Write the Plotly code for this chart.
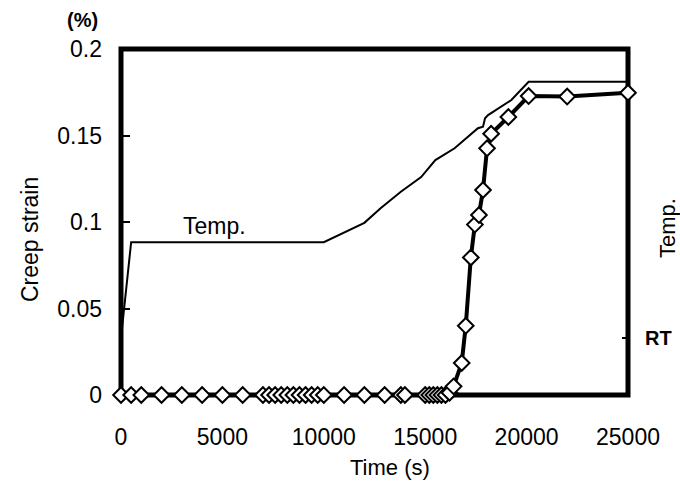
import plotly.graph_objects as go

# ---- data ----
strain_time = [0, 500, 1000, 2000, 3000, 4000, 5000, 6000,
               7000, 7300, 7600, 7900, 8200, 8500, 8800, 9100, 9400, 9700,
               10000, 11000, 12000, 13000, 13800, 14000,
               15000, 15200, 15400, 15600, 15800, 16000, 16200, 16400,
               16800, 17000, 17250, 17450, 17650, 17850, 18050, 18250,
               19100, 20100, 22000, 25000]
strain_values = [0, 0, 0, 0, 0, 0, 0, 0,
                 0, 0, 0, 0, 0, 0, 0, 0, 0, 0,
                 0, 0, 0, 0, 0, 0,
                 0, 0, 0, 0, 0, 0, 0.0013, 0.005,
                 0.0185, 0.040, 0.0795, 0.0985, 0.104, 0.1185, 0.1426, 0.151,
                 0.1607, 0.1728, 0.1725, 0.1747]

temp_time = [0, 500, 10000, 12000, 12800, 13800, 14800, 15200, 15500,
             16450, 17100, 17600, 17850, 17950, 18100, 18750, 19250, 20100, 25000]
temp_values = [0.033, 0.0883, 0.0883, 0.0995, 0.108, 0.1175, 0.126, 0.132, 0.1358,
               0.1426, 0.1493, 0.1542, 0.1551, 0.160, 0.1618, 0.1666, 0.1705, 0.181, 0.181]

x_ticks = [0, 5000, 10000, 15000, 20000, 25000]
y_ticks = [0, 0.05, 0.1, 0.15, 0.2]
y_tick_labels = ["0", "0.05", "0.1", "0.15", "0.2"]
rt_level = [0.033]
rt_label = ["<b>RT</b>"]

FONT = "Liberation Sans, Arial, sans-serif"
W, H = 680, 486
L, R, T, B = 121, 52, 49, 91
pw, ph = W - L - R, H - T - B


def px(x):
    return (x - L) / pw


def py(y):
    return (H - B - y) / ph


def label(text, x, y, size, angle=0):
    return dict(text=text, x=px(x), y=py(y), xref="paper", yref="paper",
                xanchor="center", yanchor="middle", showarrow=False,
                textangle=angle, font=dict(size=size))


fig = go.Figure()
fig.add_trace(go.Scatter(
    x=temp_time, y=temp_values, mode="lines", yaxis="y2",
    line=dict(color="black", width=2), cliponaxis=False, showlegend=False))
fig.add_trace(go.Scatter(
    x=strain_time, y=strain_values, mode="lines+markers",
    line=dict(color="black", width=4),
    marker=dict(symbol="diamond", size=12, color="white",
                line=dict(color="black", width=2)),
    cliponaxis=False, showlegend=False))

fig.update_layout(
    width=W, height=H,
    margin=dict(l=L, r=R, t=T, b=B, autoexpand=False),
    paper_bgcolor="white", plot_bgcolor="white",
    font=dict(family=FONT, size=23, color="black"),
    xaxis=dict(range=[0, 25000], tickvals=x_ticks, tickformat="d",
               showgrid=False, zeroline=False, showline=False,
               ticks="", ticklabelstandoff=26, layer="below traces"),
    yaxis=dict(range=[0, 0.2], tickvals=y_ticks, ticktext=y_tick_labels,
               showgrid=False, zeroline=False, showline=False,
               ticks="inside", ticklen=9, tickwidth=2, tickcolor="black",
               ticklabelstandoff=18, layer="below traces"),
    yaxis2=dict(range=[0, 0.2], overlaying="y", side="right",
                tickvals=rt_level, ticktext=rt_label,
                tickfont=dict(size=20, family=FONT),
                showgrid=False, zeroline=False, showline=False,
                ticks="inside", ticklen=6, tickwidth=1.5, tickcolor="black",
                ticklabelstandoff=16, layer="below traces"),
    shapes=[dict(type="rect", xref="paper", yref="paper", x0=0, x1=1, y0=0, y1=1,
                 line=dict(color="black", width=5), layer="below")],
    annotations=[
        label("Time (s)", 390, 467, 22),
        label("Creep strain", 30, 240, 23, -90),
        label("Temp.", 668, 228, 22, -90),
        label("<b>(%)</b>", 82, 20, 20),
        label("Temp.", 214, 226, 23),
    ],
)

fig.write_html("out.html", config={"displayModeBar": False},
               post_script="document.body.style.margin='0';")
